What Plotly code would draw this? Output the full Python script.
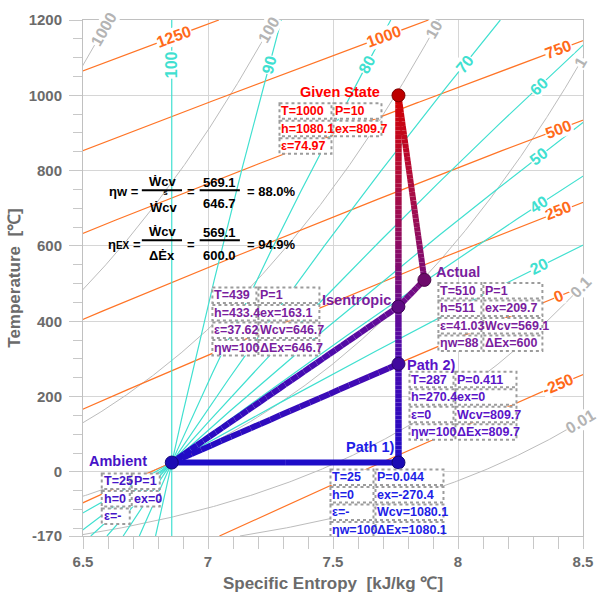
import numpy as np
import plotly.graph_objects as go

# ---------------- process states (values as labelled) ----------------
state_names = ["Given State", "Isentropic", "Actual", "Path 2)", "Path 1)", "Ambient"]
state_T = [1000, 439, 510, 287, 25, 25]            # °C
state_P = [10, 1, 1, 0.411, 0.044, 1]              # bar
state_h = [1080.1, 433.4, 511, 270.4, 0, 0]        # kJ/kg, relative to ambient
state_ex = [809.7, 163.1, 209.7, 0, -270.4, 0]     # kJ/kg
state_eps = ["74.97", "37.62", "41.03", "0", "-", "-"]
state_wcv = [None, 646.7, 569.1, 809.7, 1080.1, None]
state_etaw = [None, 100, 88, 100, 100, None]
state_dex = [None, 646.7, 600, 809.7, 1080.1, None]

# straight process lines between states (indices into the lists above)
path_segments = [(0, 1), (1, 3), (3, 4), (0, 2), (2, 1), (1, 5), (3, 5), (4, 5)]

# background isolines
isobar_P = [1000, 100, 10, 1, 0.1, 0.01]           # bar
exergy_levels = [1250, 1000, 750, 500, 250, 0, -250]  # kJ/kg
eps_levels = [100, 90, 80, 70, 60, 50, 40, 20]     # %

# equation block: work, exergy drop and efficiencies of the actual expansion
w_actual = state_wcv[2]
w_isentropic = state_wcv[1]
dex_actual = state_dex[2]
eta_w_pct = 88.0
eta_ex_pct = 94.9

# ---------------- air model (ideal gas, cp polynomial) ----------------
T0C = 25.0
T0K = T0C + 273.15
S_AMB = 6.855          # kJ/kg·K at the dead state
R_AIR = 0.287
M_AIR = 28.97
CP = (28.11, 0.1967e-2, 0.4802e-5, -1.966e-9)  # kJ/kmol·K, T in K


def delta_h(Tc):
    T = np.asarray(Tc, dtype=float) + 273.15
    a, b, c, d = CP
    return (a * (T - T0K) + b / 2 * (T**2 - T0K**2) + c / 3 * (T**3 - T0K**3)
            + d / 4 * (T**4 - T0K**4)) / M_AIR


def delta_s0(Tc):
    T = np.asarray(Tc, dtype=float) + 273.15
    a, b, c, d = CP
    return (a * np.log(T / T0K) + b * (T - T0K) + c / 2 * (T**2 - T0K**2)
            + d / 3 * (T**3 - T0K**3)) / M_AIR


state_s = [S_AMB + (h - ex) / T0K for h, ex in zip(state_h, state_ex)]

# ---------------- styling ----------------
TXT = "Liberation Sans, Arial, sans-serif"
GREY, ORANGE, CYAN = "#bcbcbc", "#ff7426", "#40e0d0"
AXIS_TXT = "#6b6b6b"

X_RANGE = (6.5, 8.5)
Y_RANGE = (-170, 1200)
W, H = 604, 601
M_L, M_R, M_T, M_B = 83, 11, 18, 65
PLOT_W = W - M_L - M_R
PLOT_H = H - M_T - M_B
PX_PER_S = PLOT_W / (X_RANGE[1] - X_RANGE[0])
PX_PER_T = PLOT_H / (Y_RANGE[1] - Y_RANGE[0])

color_T = [25, 287, 439, 510, 800, 1000]
color_rgb = [(30, 12, 200), (72, 10, 176), (104, 12, 146), (122, 12, 120),
             (180, 12, 54), (210, 0, 0)]
text_colors = ["#ff0000", "#7a1e9e", "#7a1e9e", "#5a14c8", "#1e1ee6", "#4614c8"]


def t_color(T, k=1.0):
    rgb = [np.interp(T, color_T, [c[i] for c in color_rgb]) * k for i in range(3)]
    return "rgb(%d,%d,%d)" % tuple(int(round(v)) for v in rgb)


fig = go.Figure()
T_grid = np.linspace(Y_RANGE[0], Y_RANGE[1], 700)


def add_line(s, T, color, width):
    fig.add_trace(go.Scatter(x=s, y=T, mode="lines", line=dict(color=color, width=width),
                             hoverinfo="skip", showlegend=False))


def place_label(s, T, T_top, s_right):
    s_top = np.interp(T_top, T, s)
    if s_top <= s_right:
        s_l, T_l = s_top, T_top
    else:
        s_l, T_l = s_right, np.interp(s_right, s, T)
    s_a = np.interp(T_l - 10, T, s)
    s_b = np.interp(T_l + 10, T, s)
    ang = -np.degrees(np.arctan2(20 * PX_PER_T, (s_b - s_a) * PX_PER_S))
    return s_l, T_l, ang


def add_line_label(s_l, T_l, ang, text, color):
    fig.add_annotation(x=s_l, y=T_l, text=text, textangle=ang, showarrow=False,
                       font=dict(family=TXT, size=16, color=color, weight="bold"),
                       bgcolor="white", borderpad=0)


label_specs = []

# isobars
for P in isobar_P:
    s = S_AMB + delta_s0(T_grid) - R_AIR * np.log(P)
    add_line(s, T_grid, GREY, 1)
    label_specs.append((s, 1175, 8.49, f"{P:g}", "#b4b4b4"))

# constant exergy lines
for ex in exergy_levels:
    s = S_AMB + (delta_h(T_grid) - ex) / T0K
    add_line(s, T_grid, ORANGE, 1.2)
    label_specs.append((s, 1156, 8.40, f"{ex:g}", "#ff6a1a"))

# constant exergy-to-enthalpy ratio lines through the dead state
for e in eps_levels:
    s = S_AMB + (1 - e / 100) * delta_h(T_grid) / T0K
    add_line(s, T_grid, CYAN, 1.2)
    label_specs.append((s, 1082, 8.323, f"{e:g}", CYAN))

for s, T_top, s_right, text, col in label_specs:
    s_l, T_l, ang = place_label(s, T_grid, T_top, s_right)
    add_line_label(s_l, T_l, ang, text, col)

# ---------------- process paths (coloured by temperature) ----------------
for i, j in path_segments:
    s_a, s_b = state_s[i], state_s[j]
    T_a, T_b = state_T[i], state_T[j]
    n = max(2, int(abs(T_a - T_b) / 12) + 2)
    fr = np.linspace(0, 1, n + 1)
    width = 6.5 if abs(s_a - s_b) < 1e-2 else 6
    for k in range(n):
        ss = [s_a + (s_b - s_a) * fr[k], s_a + (s_b - s_a) * fr[k + 1]]
        tt = [T_a + (T_b - T_a) * fr[k], T_a + (T_b - T_a) * fr[k + 1]]
        add_line(ss, tt, t_color(0.5 * (tt[0] + tt[1])), width)

fig.add_trace(go.Scatter(
    x=state_s, y=state_T, mode="markers", hoverinfo="skip", showlegend=False,
    marker=dict(size=13, color=[t_color(T, 0.9) for T in state_T],
                line=dict(color=[t_color(T, 0.6) for T in state_T], width=1))))

# ---------------- state tables ----------------
# pixel offsets from each state marker: label centre, column edges, table top (down = +)
box_layout = {
    "Given State": dict(label=(-58, -3), cols=(-120, -66, -16), top=7),
    "Isentropic": dict(label=(-42, -7), cols=(-187, -141, -78), top=-20),
    "Actual": dict(label=(34, -8), cols=(13, 58, 119), top=2),
    "Path 2)": dict(label=(33, 1), cols=(10, 56, 119), top=7),
    "Path 1)": dict(label=(-28, -16), cols=(-69, -24, 46), top=6),
    "Ambient": dict(label=(-54, -2), cols=(-71, -41, -11), top=10),
}
ROW_H = 17.5


def table_rows(i):
    rows = [[f"T={state_T[i]:g}", f"P={state_P[i]:g}"],
            [f"h={state_h[i]:g}", f"ex={state_ex[i]:g}"]]
    if state_wcv[i] is None:
        rows.append([f"ε={state_eps[i]}", None])
    else:
        rows.append([f"ε={state_eps[i]}", f"Wcv={state_wcv[i]:g}"])
        rows.append([f"ηw={state_etaw[i]:g}", f"ΔEx={state_dex[i]:g}"])
    return rows


for i, name in enumerate(state_names):
    s_i, T_i = state_s[i], state_T[i]
    lay = box_layout[name]
    col = text_colors[i]
    lx, ly = lay["label"]
    fig.add_annotation(x=s_i, y=T_i, xshift=lx, yshift=-ly, text=name, showarrow=False,
                       font=dict(family=TXT, size=14.5, color=col, weight="bold"))
    xl, xm, xr = lay["cols"]
    for r, row in enumerate(table_rows(i)):
        y_top = lay["top"] + r * ROW_H
        for (x0, x1, txt) in ((xl, xm, row[0]), (xm, xr, row[1])):
            if txt is None:
                continue
            fig.add_shape(type="rect", xref="x", yref="y", xsizemode="pixel",
                          ysizemode="pixel", xanchor=s_i, yanchor=T_i,
                          x0=x0 + 1, x1=x1 - 1, y0=-(y_top + 1), y1=-(y_top + ROW_H - 1),
                          line=dict(color="#9c9c9c", width=2, dash="dot"),
                          fillcolor="white")
            fig.add_annotation(x=s_i, y=T_i, xshift=x0 + 2, yshift=-(y_top + ROW_H / 2),
                               xanchor="left", yanchor="middle", text=txt, showarrow=False,
                               borderpad=0,
                               font=dict(family=TXT, size=12.5, color=col, weight="bold"))

# ---------------- efficiency equations ----------------


def px(x):
    return (x - M_L) / PLOT_W


def py(y):
    return 1 - (y - M_T) / PLOT_H


def eq_text(x, y, text, size=13, anchor="center"):
    fig.add_annotation(x=px(x), y=py(y), xref="paper", yref="paper", text=text,
                       showarrow=False, xanchor=anchor, yanchor="middle", borderpad=0,
                       font=dict(family=TXT, size=size, color="black", weight="bold"))


def eq_bar(x0, x1, y):
    fig.add_shape(type="line", xref="paper", yref="paper", x0=px(x0), x1=px(x1),
                  y0=py(y), y1=py(y), line=dict(color="black", width=2))


eq_text(125, 190, "ηw =")
eq_text(165, 180, "Ẇcv")
eq_bar(143, 184, 189)
eq_text(166, 200, "<span style='font-size:8px'>&nbsp;&nbsp;ṡ</span><br>Ẇcv")
eq_text(193, 190, "=")
eq_text(222, 181, f"{w_actual:.1f}")
eq_bar(202, 243, 189)
eq_text(222, 202, f"{w_isentropic:.1f}")
eq_text(249, 190, f"= {eta_w_pct:.1f}%", anchor="left")

eq_text(125, 243, "η<span style='font-size:10px'>EX</span> =")
eq_text(165, 230, "Ẇcv")
eq_bar(143, 184, 239)
eq_text(164, 254, "ΔĖx")
eq_text(193, 243, "=")
eq_text(222, 231, f"{w_actual:.1f}")
eq_bar(202, 243, 239)
eq_text(222, 254, f"{dex_actual:.1f}")
eq_text(249, 243, f"= {eta_ex_pct:.1f}%", anchor="left")

# ---------------- axes ----------------
y_ticks = [-170, 0, 200, 400, 600, 800, 1000, 1200]
x_ticks = [6.5, 7, 7.5, 8, 8.5]

fig.update_layout(
    width=W, height=H,
    margin=dict(l=M_L, r=M_R, t=M_T, b=M_B),
    paper_bgcolor="white", plot_bgcolor="white",
    showlegend=False,
    xaxis=dict(
        range=list(X_RANGE), tickvals=x_ticks, ticktext=[f"{v:g}" for v in x_ticks],
        ticks="outside", ticklen=12, tickcolor="#c8c8c8", tickwidth=1,
        minor=dict(dtick=0.1, tick0=6.5, ticks="outside", ticklen=12,
                   tickcolor="#c8c8c8", showgrid=False),
        showgrid=True, gridcolor="#d6d6d6", gridwidth=1,
        showline=True, linecolor="#c0c0c0", linewidth=1, mirror=True,
        zeroline=False,
        tickfont=dict(family=TXT, size=15, color=AXIS_TXT, weight="bold"),
        title=dict(text="Specific Entropy  [kJ/kg ℃]", standoff=8,
                   font=dict(family=TXT, size=17, color=AXIS_TXT, weight="bold")),
    ),
    yaxis=dict(
        range=list(Y_RANGE), tickvals=y_ticks, ticktext=[f"{v:g}" for v in y_ticks],
        ticks="outside", ticklen=13, tickcolor="#c8c8c8", tickwidth=1,
        minor=dict(dtick=50, tick0=0, ticks="outside", ticklen=9,
                   tickcolor="#c8c8c8", showgrid=False),
        showgrid=True, gridcolor="#d6d6d6", gridwidth=1,
        showline=True, linecolor="#c0c0c0", linewidth=1, mirror=True,
        zeroline=False, ticklabelstandoff=4,
        tickfont=dict(family=TXT, size=15, color=AXIS_TXT, weight="bold"),
        title=dict(text="Temperature  [℃]", standoff=3,
                   font=dict(family=TXT, size=17, color=AXIS_TXT, weight="bold")),
    ),
)

fig.write_html("out.html")
